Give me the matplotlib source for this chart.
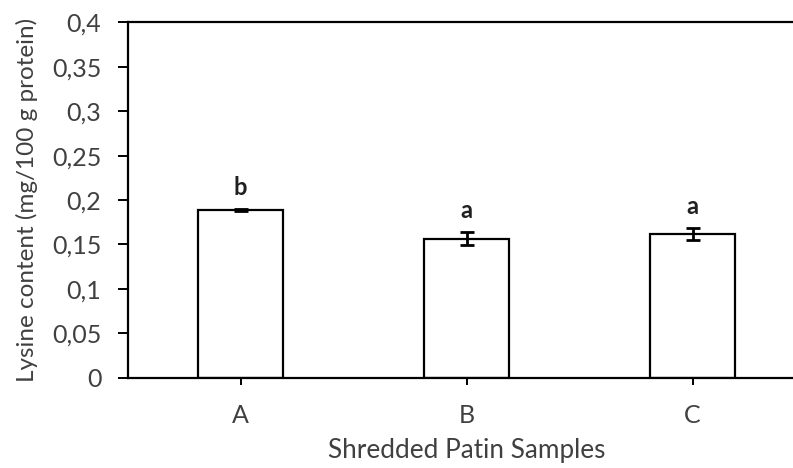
import numpy as np
import matplotlib.pyplot as plt
from matplotlib.ticker import FuncFormatter

samples = ['A', 'B', 'C']
lysine = [0.1886, 0.1566, 0.1616]
sd = [0.0014, 0.0071, 0.0068]
letters = ['b', 'a', 'a']

plt.rcParams['font.family'] = ['Lato', 'DejaVu Sans']
txt = '#404040'

fig = plt.figure(figsize=(7.93, 4.68), dpi=100)
ax = fig.add_axes([0.161, 0.193, 0.855, 0.759])

x = np.arange(len(samples))
ax.bar(x, lysine, width=0.378, color='white', edgecolor='black', linewidth=1.6, zorder=2)
ax.errorbar(x, lysine, yerr=sd, fmt='none', ecolor='black', elinewidth=2,
            capsize=5, capthick=2, zorder=3)
for xi, v, e, s in zip(x, lysine, sd, letters):
    ax.text(xi, v + e + 0.024, s, ha='center', va='center', fontsize=17,
            fontweight='bold', color='#202020')

ax.set_xlim(-0.5, 2.5)
ax.set_ylim(0, 0.4)
ax.set_yticks(np.arange(0, 0.401, 0.05))
ax.yaxis.set_major_formatter(FuncFormatter(lambda v, p: ('%g' % round(v, 2)).replace('.', ',')))
ax.set_xticks(x)
ax.set_xticklabels(samples)

for side in ['left', 'bottom', 'top']:
    ax.spines[side].set_linewidth(1.6)
    ax.spines[side].set_color('black')
ax.spines['right'].set_visible(False)

ax.tick_params(axis='y', direction='out', length=7, width=1.4, labelsize=18,
               labelcolor=txt, pad=12)
ax.tick_params(axis='x', direction='out', length=5, width=1.4, labelsize=18,
               labelcolor=txt, pad=14)

ax.set_ylabel('Lysine content (mg/100 g protein)', fontsize=17.5, color=txt, labelpad=10)
ax.set_xlabel('Shredded Patin Samples', fontsize=18.8, color=txt, labelpad=8)

fig.savefig('out.png', dpi=100)
